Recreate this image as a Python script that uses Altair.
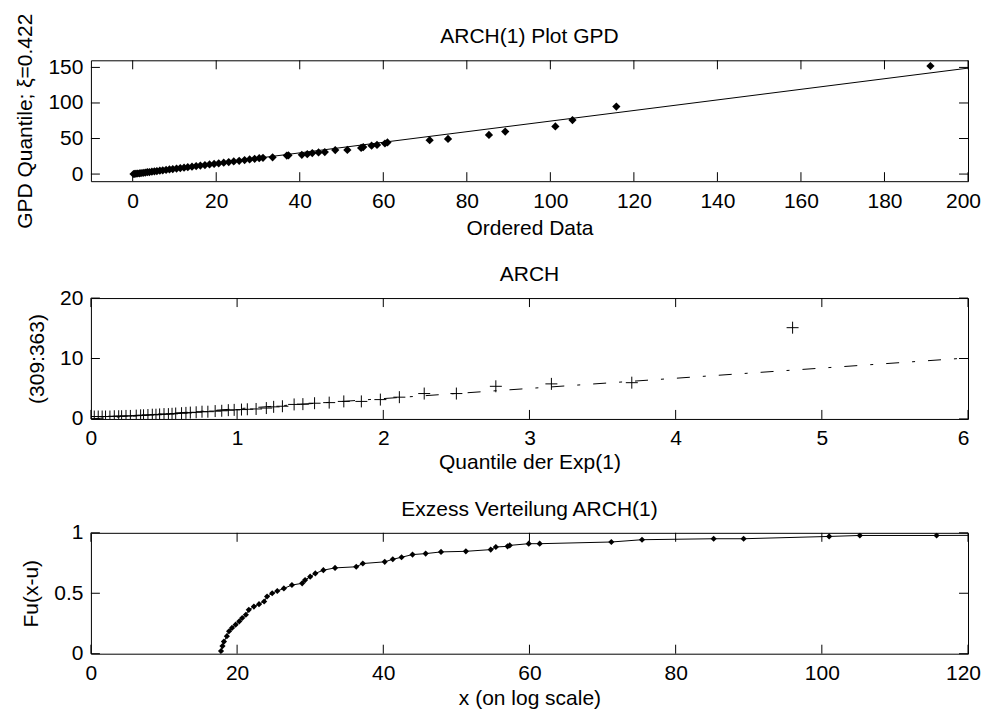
import altair as alt
import pandas as pd

FONT = "Liberation Sans"
FS = 21
TL = 9  # inward tick length

# ---------------- Panel 1: ARCH(1) Plot GPD ----------------
p1_x = [0.2, 0.5, 0.8, 1.2, 1.6, 2.0, 2.5, 3.0, 3.5, 4.0, 4.6, 5.2, 5.8, 6.5, 7.2,
        8.0, 8.8, 9.6, 10.5, 11.4, 12.3, 13.2, 14.2, 15.2, 16.2, 17.3, 18.4, 19.5,
        20.6, 21.8, 23.0, 24.2, 25.5, 26.8, 28.0, 29.2, 30.3, 31.2, 33.5, 36.9, 37.3,
        40.5, 41.8, 43.0, 44.5, 46.0, 48.5, 51.4, 54.7, 55.2, 57.2, 58.5, 60.4, 61.0,
        71.1, 75.5, 85.3, 89.2, 101.2, 105.3, 115.8, 191.0]
p1_y = [0.1, 0.3, 0.5, 0.8, 1.1, 1.4, 1.8, 2.2, 2.6, 2.9, 3.4, 3.8, 4.3, 4.8, 5.3,
        5.9, 6.5, 7.0, 7.7, 8.4, 9.0, 9.7, 10.4, 11.2, 11.9, 12.7, 13.5, 14.3,
        15.1, 16.0, 16.9, 17.8, 18.7, 19.7, 20.6, 21.5, 22.3, 22.9, 23.6, 26.0, 26.3,
        27.0, 28.0, 29.5, 30.5, 31.0, 33.8, 34.0, 36.7, 38.0, 40.0, 41.0, 43.0, 44.5,
        47.7, 49.5, 55.0, 59.7, 67.0, 76.0, 95.0, 152.0]
p1_line_x = [0, 200]
p1_line_y = [0, 149]
p1_xticks = [0, 20, 40, 60, 80, 100, 120, 140, 160, 180, 200]
p1_yticks = [0, 50, 100, 150]

# ---------------- Panel 2: ARCH (Exp QQ) ----------------
p2_x = [0.023, 0.05, 0.077, 0.10, 0.13, 0.16, 0.19, 0.21, 0.24, 0.27, 0.31, 0.34,
        0.36, 0.39, 0.42, 0.445, 0.47, 0.50, 0.53, 0.555, 0.58, 0.62, 0.65, 0.68,
        0.72, 0.76, 0.80, 0.85, 0.895, 0.94, 0.98, 1.03, 1.07, 1.13, 1.20, 1.25,
        1.31, 1.39, 1.45, 1.53, 1.63, 1.73, 1.85, 1.98, 2.11, 2.28, 2.50, 2.77,
        3.15, 3.70, 4.80]
p2_y = [0.4, 0.4, 0.4, 0.4, 0.4, 0.45, 0.45, 0.45, 0.5, 0.5, 0.55, 0.6,
        0.6, 0.65, 0.7, 0.7, 0.75, 0.8, 0.8, 0.85, 0.9, 0.95, 1.0, 1.05,
        1.1, 1.2, 1.2, 1.3, 1.35, 1.45, 1.5, 1.55, 1.6, 1.65, 1.8, 2.0,
        2.1, 2.4, 2.45, 2.6, 2.7, 2.9, 2.9, 3.2, 3.6, 4.2, 4.2, 5.4,
        5.8, 6.0, 15.1]
p2_line_x = [0, 6]
p2_line_y = [0, 10.1]
p2_xticks = [0, 1, 2, 3, 4, 5, 6]
p2_yticks = [0, 10, 20]

# ---------------- Panel 3: Exzess Verteilung ----------------
p3_x = [17.8, 18.0, 18.2, 18.6, 18.9, 19.3, 19.8, 20.3, 20.7, 21.2, 21.6, 22.3,
        23.0, 23.7, 24.1, 24.8, 25.5, 26.4, 27.5, 28.9, 29.3, 30.0, 30.7, 31.8,
        33.4, 36.3, 37.2, 40.2, 41.3, 42.5, 44.0, 45.8, 47.9, 51.3, 54.7, 55.4,
        57.0, 57.3, 59.9, 61.4, 71.2, 75.4, 85.2, 89.3, 101.0, 105.2, 115.7]
p3_y = [0.022, 0.063, 0.10, 0.145, 0.186, 0.213, 0.24, 0.268, 0.295, 0.322, 0.363, 0.39,
        0.41, 0.432, 0.473, 0.50, 0.519, 0.54, 0.568, 0.582, 0.609, 0.637, 0.664, 0.691,
        0.71, 0.719, 0.746, 0.76, 0.781, 0.798, 0.82, 0.828, 0.842, 0.847, 0.861, 0.883,
        0.888, 0.896, 0.91, 0.91, 0.924, 0.943, 0.951, 0.951, 0.970, 0.978, 0.978]
p3_line_x = [17.7] + p3_x + [191.0]
p3_line_y = [0.0] + p3_y + [0.998]
p3_xticks = [0, 20, 40, 60, 80, 100, 120]
p3_yticks = [0, 0.5, 1]

W = 878
H = 121

CROSS = "M-1,0L1,0M0,-1L0,1"


def panel(px, py, lx, ly, xdom, ydom, xticks, yticks, xtitle, ytitle, title,
          marker, dash=None, yfmt=None, xtpad=6):
    pts = pd.DataFrame({"x": px, "y": py})
    ln = pd.DataFrame({"x": lx, "y": ly})
    xt = pd.DataFrame({"x": xticks})
    yt = pd.DataFrame({"y": yticks})
    tt = pd.DataFrame({"t": [title]})
    xs = alt.Scale(domain=xdom, nice=False, zero=False)
    ys = alt.Scale(domain=ydom, nice=False, zero=False)
    common = dict(ticks=False, grid=False, domain=False,
                  labelOverlap=False, labelFlush=False,
                  labelFont=FONT, labelFontSize=FS, labelColor="black",
                  titleFont=FONT, titleFontSize=FS, titleColor="black",
                  titleFontWeight="normal")
    yaxis_kw = dict(values=yticks, title=ytitle, labelPadding=8, titlePadding=12,
                    **common)
    if yfmt:
        yaxis_kw["format"] = yfmt
    last = xticks[-1]
    xaxis = alt.Axis(values=xticks, title=xtitle, labelPadding=9,
                     titlePadding=xtpad,
                     labelOffset={"condition": {"test": f"datum.value == {last}",
                                                "value": -5}, "value": 0},
                     **common)
    yaxis = alt.Axis(**yaxis_kw)
    X = alt.X("x:Q", scale=xs, axis=xaxis)
    Y = alt.Y("y:Q", scale=ys, axis=yaxis)

    line_kw = dict(color="black", strokeWidth=1, clip=True)
    if dash:
        line_kw["strokeDash"] = dash
    line = alt.Chart(ln).mark_line(**line_kw).encode(x=X, y=Y)
    if marker == "cross":
        mk = alt.Chart(pts).mark_point(shape=CROSS, filled=False, size=144,
                                       color="black", strokeWidth=1, opacity=1, clip=True)
    else:
        mk = alt.Chart(pts).mark_point(shape="diamond", filled=True, size=marker,
                                       color="black", opacity=1, clip=True)
    mk = mk.encode(x=X, y=Y)

    xt_b = alt.Chart(xt).mark_rule(color="black", strokeWidth=1).encode(
        x=X, y=alt.value(H), y2=alt.value(H - TL))
    xt_t = alt.Chart(xt).mark_rule(color="black", strokeWidth=1).encode(
        x=X, y=alt.value(0), y2=alt.value(TL))
    yt_l = alt.Chart(yt).mark_rule(color="black", strokeWidth=1).encode(
        y=Y, x=alt.value(0), x2=alt.value(TL))
    yt_r = alt.Chart(yt).mark_rule(color="black", strokeWidth=1).encode(
        y=Y, x=alt.value(W), x2=alt.value(W - TL))

    ttl = alt.Chart(tt).mark_text(font=FONT, fontSize=FS, color="black",
                                  align="center", baseline="alphabetic").encode(
        text="t:N", x=alt.value(W / 2), y=alt.value(-17))

    return alt.layer(line, mk, xt_b, xt_t, yt_l, yt_r, ttl).properties(
        width=W, height=H)


c1 = panel(p1_x, p1_y, p1_line_x, p1_line_y, [-10, 200], [-10, 160],
           p1_xticks, p1_yticks, "Ordered Data", "GPD Quantile; \u03be=0.422",
           "ARCH(1) Plot GPD", 68, xtpad=6)
c2 = panel(p2_x, p2_y, p2_line_x, p2_line_y, [0, 6], [0, 20],
           p2_xticks, p2_yticks, "Quantile der Exp(1)", "(309:363)",
           "ARCH", "cross", dash=[13, 13, 3, 13], xtpad=3)
c3 = panel(p3_x, p3_y, p3_line_x, p3_line_y, [0, 120], [0, 1],
           p3_xticks, p3_yticks, "x (on log scale)", "Fu(x-u)",
           "Exzess Verteilung ARCH(1)", 38, yfmt="~g", xtpad=4)

chart = alt.vconcat(
    c1, c2, c3, spacing=24, background="white",
    padding={"left": 6, "top": 4, "right": 0, "bottom": 0},
).configure_view(stroke="black", strokeWidth=1)

chart.save("out.html", embed_options={"renderer": "svg", "actions": False})
